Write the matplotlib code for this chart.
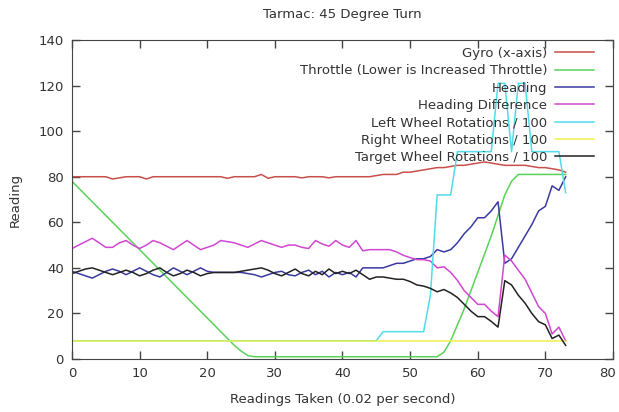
import matplotlib
matplotlib.use("Agg")
import matplotlib.pyplot as plt
import matplotlib.transforms as mtransforms

readings = list(range(74))

gyro = [80, 80, 80, 80, 80, 80, 79, 79.5, 80, 80,
        80, 79, 80, 80, 80, 80, 80, 80, 80, 80,
        80, 80, 80, 79.3, 80, 80, 80, 80, 81, 79.3,
        80, 80, 80, 80, 79.5, 80, 80, 80, 79.5, 80,
        80, 80, 80, 80, 80, 80.5, 81, 81, 81, 82,
        82, 82.5, 83, 83.5, 84, 84, 84.5, 85, 85, 85.5,
        86, 86.5, 86, 85.5, 85, 85, 85, 85, 84.5, 84,
        84, 83.5, 83, 82]

throttle = [78, 75, 72, 69, 66, 63, 60, 57, 54, 51,
            48, 45, 42, 39, 36, 33, 30, 27, 24, 21,
            18, 15, 12, 9, 6, 3.5, 1.5, 1, 1, 1,
            1, 1, 1, 1, 1, 1, 1, 1, 1, 1,
            1, 1, 1, 1, 1, 1, 1, 1, 1, 1,
            1, 1, 1, 1, 1, 3, 8, 15, 22, 30,
            38, 46, 54, 63, 72, 78, 81, 81, 81, 81,
            81, 81, 81, 81]

heading = [38.5, 37.5, 36.5, 35.5, 37, 38.5, 39.5, 38.5, 37, 38.5,
           40, 38.5, 37, 36, 38, 40, 38.5, 37, 38.5, 40,
           38.5, 38, 38, 38, 38, 38, 37.5, 37, 36, 37,
           38, 38.5, 37, 36.5, 38, 39, 37, 38.5, 36, 38,
           37, 38, 36, 40, 40, 40, 40, 41, 42, 42,
           43, 44, 44, 45, 48, 47, 48, 51, 55, 58,
           62, 62, 65, 69, 42, 44, 49, 54, 59, 65,
           67, 76, 74, 80]

heading_diff = [48.5, 50, 51.5, 53, 51, 49, 49, 51, 52, 50,
                48.5, 50, 52, 51, 49.5, 48, 50, 52, 50, 48,
                49, 50, 52, 51.5, 51, 50, 49, 50.5, 52, 51,
                50, 49, 50, 50, 49, 48.5, 52, 50.5, 49.5, 52,
                50, 49, 52, 47.5, 48, 48, 48, 48, 47, 45.5,
                44.5, 43.6, 43.6, 43, 40, 40.5, 38, 34.5, 30, 27,
                24, 24, 21, 18.6, 45.6, 43, 39, 35, 29, 23,
                20, 11, 14, 8]

left_wheel = [8, 8, 8, 8, 8, 8, 8, 8, 8, 8,
              8, 8, 8, 8, 8, 8, 8, 8, 8, 8,
              8, 8, 8, 8, 8, 8, 8, 8, 8, 8,
              8, 8, 8, 8, 8, 8, 8, 8, 8, 8,
              8, 8, 8, 8, 8, 8, 12, 12, 12, 12,
              12, 12, 12, 28, 72, 72, 72, 91, 91, 91,
              91, 91, 91, 121, 121, 91, 121, 121, 91, 91,
              91, 91, 91, 73]

right_wheel = [8] * 74

target_wheel = [37.5, 38.5, 39.5, 40, 39, 38, 37, 38, 39, 38,
                36.5, 37.5, 39, 40, 38, 36.5, 37.5, 39, 38, 36.5,
                37.5, 38, 38, 38, 38, 38.5, 39, 39.5, 40, 39,
                37.5, 36.5, 38, 39.5, 37.5, 36.5, 38.5, 37, 39.5, 37.5,
                38.5, 37.5, 39, 37, 35, 36, 36, 35.5, 35, 35,
                34, 32.5, 32, 31, 29.5, 30.5, 29, 27, 24, 21,
                18.6, 18.6, 16.5, 14, 34.4, 32.5, 28, 24.5, 20, 16.4,
                15, 9, 10.5, 6]

text_color = "#333333"
plt.rcParams["font.family"] = "DejaVu Sans"
plt.rcParams["font.size"] = 9.5

fig = plt.figure(figsize=(6.19, 4.12), dpi=100)
fig.subplots_adjust(left=0.1163, right=0.9903, bottom=0.1286, top=0.9029)
ax = fig.gca()

ax.plot(readings, gyro, color="#c8504b", lw=1.1, label="Gyro (x-axis)")
ax.plot(readings, throttle, color="#5ad25a", lw=1.1, label="Throttle (Lower is Increased Throttle)")
ax.plot(readings, heading, color="#3a3aa0", lw=1.1, label="Heading")
ax.plot(readings, heading_diff, color="#d246d2", lw=1.1, label="Heading Difference")
ax.plot(readings, left_wheel, color="#50dce8", lw=1.1, label="Left Wheel Rotations / 100")
ax.plot(readings, right_wheel, color="#f0f04a", lw=1.1, label="Right Wheel Rotations / 100")
ax.plot(readings, target_wheel, color="#222222", lw=1.1, label="Target Wheel Rotations / 100")

ax.set_xlim(0, 80)
ax.set_ylim(0, 140)
ax.set_xticks(range(0, 81, 10))
ax.set_yticks(range(0, 141, 20))
ax.tick_params(direction="in", top=True, right=True, length=6, width=1,
               color="#444444", labelcolor=text_color, labelsize=9.5, pad=6)
for spine in ax.spines.values():
    spine.set_color("#444444")

# nudge the last x tick label so it stays inside the figure
last_label = ax.get_xticklabels()[-1]
last_label.set_transform(last_label.get_transform()
                         + mtransforms.ScaledTranslation(-0.05, 0, fig.dpi_scale_trans))

ax.set_title("Tarmac: 45 Degree Turn", fontsize=9.5, color=text_color, pad=16)
ax.set_xlabel("Readings Taken (0.02 per second)", fontsize=9.5, color=text_color, labelpad=9)
ax.set_ylabel("Reading", fontsize=9.5, color=text_color, labelpad=12)

leg = ax.legend(loc="upper right", bbox_to_anchor=(0.975, 0.995), frameon=False,
                markerfirst=False, handlelength=3.0, handletextpad=0.55,
                labelspacing=0.33, fontsize=9.5, borderaxespad=0)
for t in leg.get_texts():
    t.set_color(text_color)

plt.savefig("out.png", dpi=100)
